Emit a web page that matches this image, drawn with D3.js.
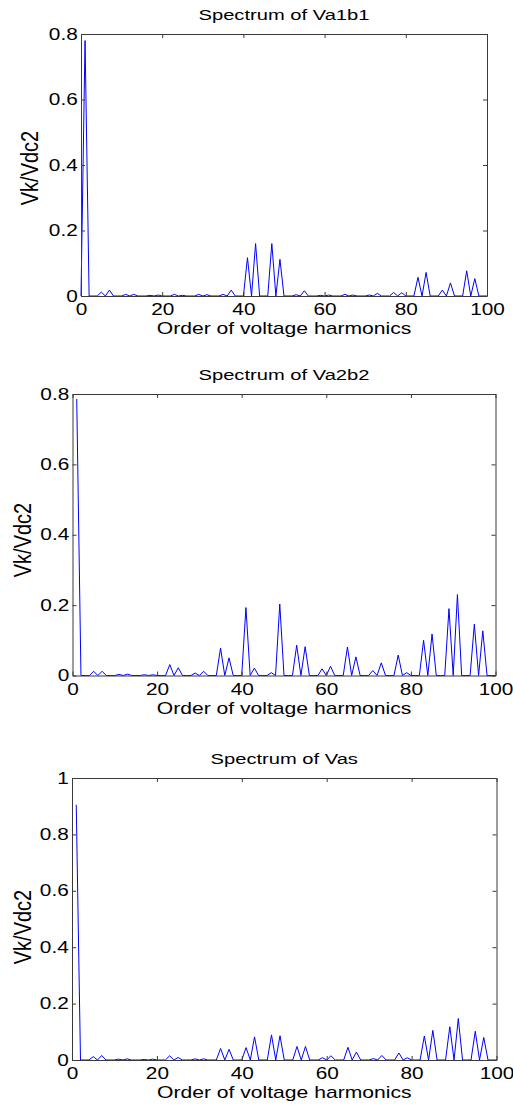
<!DOCTYPE html>
<html>
<head>
<meta charset="utf-8">
<script src="https://cdn.jsdelivr.net/npm/d3@7"></script>
<style>
  html, body { margin: 0; padding: 0; background: #fff; }
  svg text { font-family: "Liberation Sans", Arial, Helvetica, sans-serif; fill: #000; }
</style>
</head>
<body>
<svg id="fig" width="513" height="1107"></svg>
<script>
// Harmonic orders that carry energy (odd, non-triplen); all others are zero.
const harmonicOrders = [1, 5, 7, 11, 13, 17, 19, 23, 25, 29, 31, 35, 37, 41, 43, 47, 49,
  53, 55, 59, 61, 65, 67, 71, 73, 77, 79, 83, 85, 89, 91, 95, 97];

// Normalised amplitudes Vk/Vdc2 for each order above.
const va1b1Amplitudes = [0.78, 0.012, 0.018, 0.005, 0.005, 0.002, 0.003, 0.005, 0.002, 0.005, 0.004,
  0.005, 0.018, 0.117, 0.160, 0.160, 0.112, 0.004, 0.016, 0.002, 0.003, 0.005, 0.003, 0.003,
  0.008, 0.011, 0.010, 0.057, 0.072, 0.018, 0.040, 0.077, 0.053];
const va2b2Amplitudes = [0.786, 0.012, 0.012, 0.003, 0.004, 0.002, 0.002, 0.031, 0.022, 0.007, 0.012,
  0.078, 0.050, 0.193, 0.021, 0.008, 0.203, 0.086, 0.082, 0.019, 0.026, 0.081, 0.053, 0.014,
  0.036, 0.058, 0.008, 0.100, 0.118, 0.190, 0.230, 0.146, 0.127];
const vasAmplitudes = [0.905, 0.012, 0.016, 0.003, 0.004, 0.002, 0.003, 0.015, 0.009, 0.004, 0.004,
  0.041, 0.038, 0.044, 0.082, 0.089, 0.086, 0.048, 0.048, 0.008, 0.015, 0.045, 0.028, 0.005,
  0.016, 0.025, 0.008, 0.085, 0.105, 0.118, 0.147, 0.102, 0.080];

const panelTitles = ["Spectrum of Va1b1", "Spectrum of Va2b2", "Spectrum of Vas"];
const xTicks = [0, 20, 40, 60, 80, 100];
const xTickLabels = ["0", "20", "40", "60", "80", "100"];
const yTicksLine = [0, 0.2, 0.4, 0.6, 0.8];
const yTickLabelsLine = ["0", "0.2", "0.4", "0.6", "0.8"];
const yTicksPhase = [0, 0.2, 0.4, 0.6, 0.8, 1];
const yTickLabelsPhase = ["0", "0.2", "0.4", "0.6", "0.8", "1"];
const xLabel = "Order of voltage harmonics";
const yLabel = "Vk/Vdc2";

// Panel geometry and per-panel settings
const panels = [
  { title: panelTitles[0], amps: va1b1Amplitudes, firstOrder: 0, yMax: 0.8,
    yTicks: yTicksLine, yLabels: yTickLabelsLine,
    box: { left: 81, right: 487, top: 34, bottom: 296 }, ylab: { x: 38, y: 168 } },
  { title: panelTitles[1], amps: va2b2Amplitudes, firstOrder: 1, yMax: 0.8,
    yTicks: yTicksLine, yLabels: yTickLabelsLine,
    box: { left: 72.5, right: 495.5, top: 394, bottom: 675.5 }, ylab: { x: 31, y: 540 } },
  { title: panelTitles[2], amps: vasAmplitudes, firstOrder: 1, yMax: 1,
    yTicks: yTicksPhase, yLabels: yTickLabelsPhase,
    box: { left: 72, right: 496.5, top: 778, bottom: 1060 }, ylab: { x: 30.5, y: 927 } }
];

const svg = d3.select("#fig");
const axisColor = "#3a3a3a";
const stretch = 1.3;

panels.forEach(p => {
  const { left, right, top, bottom } = p.box;
  const x = d3.scaleLinear().domain([0, 100]).range([left, right]);
  const y = d3.scaleLinear().domain([0, p.yMax]).range([bottom, top]);
  const g = svg.append("g");

  // Full spectrum: listed orders carry their amplitude, the rest sit at zero
  const ampByOrder = new Map(harmonicOrders.map((n, i) => [n, p.amps[i]]));
  const series = d3.range(p.firstOrder, 101).map(n => ({ n, v: ampByOrder.get(n) || 0 }));

  g.append("path")
    .datum(series)
    .attr("fill", "none")
    .attr("stroke", "#0000ff")
    .attr("stroke-width", 1)
    .attr("d", d3.line().x(d => x(d.n)).y(d => y(d.v)));

  // Axes: ticks point inwards on all four sides, box formed by the domains
  const styleAxis = sel => {
    sel.select(".domain").attr("stroke", axisColor);
    sel.selectAll(".tick line").attr("stroke", axisColor);
    sel.attr("font-family", null).attr("font-size", null);
  };

  const bottomAxis = g.append("g")
    .attr("transform", `translate(0,${bottom})`)
    .call(d3.axisBottom(x).tickValues(xTicks).tickFormat((d, i) => xTickLabels[i])
      .tickSizeInner(-4).tickSizeOuter(0).tickPadding(8))
    .call(styleAxis);
  bottomAxis.selectAll("text")
    .style("font-size", "16px")
    .attr("transform", `scale(${stretch},1)`);

  const leftAxis = g.append("g")
    .attr("transform", `translate(${left},0)`)
    .call(d3.axisLeft(y).tickValues(p.yTicks).tickFormat((d, i) => p.yLabels[i])
      .tickSizeInner(-4).tickSizeOuter(0).tickPadding(2.5))
    .call(styleAxis);
  leftAxis.selectAll("text")
    .style("font-size", "16px")
    .attr("transform", `scale(${stretch},1)`);

  g.append("g")
    .attr("transform", `translate(0,${top})`)
    .call(d3.axisTop(x).tickValues(xTicks).tickFormat("")
      .tickSizeInner(-4).tickSizeOuter(0))
    .call(styleAxis);

  g.append("g")
    .attr("transform", `translate(${right},0)`)
    .call(d3.axisRight(y).tickValues(p.yTicks).tickFormat("")
      .tickSizeInner(-4).tickSizeOuter(0))
    .call(styleAxis);

  const cx = (left + right) / 2;

  g.append("text")
    .attr("transform", `translate(${cx},${top - 14}) scale(${stretch},1)`)
    .attr("text-anchor", "middle")
    .style("font-size", "15.5px")
    .text(p.title);

  g.append("text")
    .attr("transform", `translate(${cx},${bottom + 38}) scale(1.32,1)`)
    .attr("text-anchor", "middle")
    .style("font-size", "16px")
    .text(xLabel);

  g.append("text")
    .attr("transform", `translate(${p.ylab.x},${p.ylab.y}) rotate(-90) scale(1,1.15)`)
    .attr("text-anchor", "middle")
    .style("font-size", "20px")
    .text(yLabel);
});
</script>
</body>
</html>
